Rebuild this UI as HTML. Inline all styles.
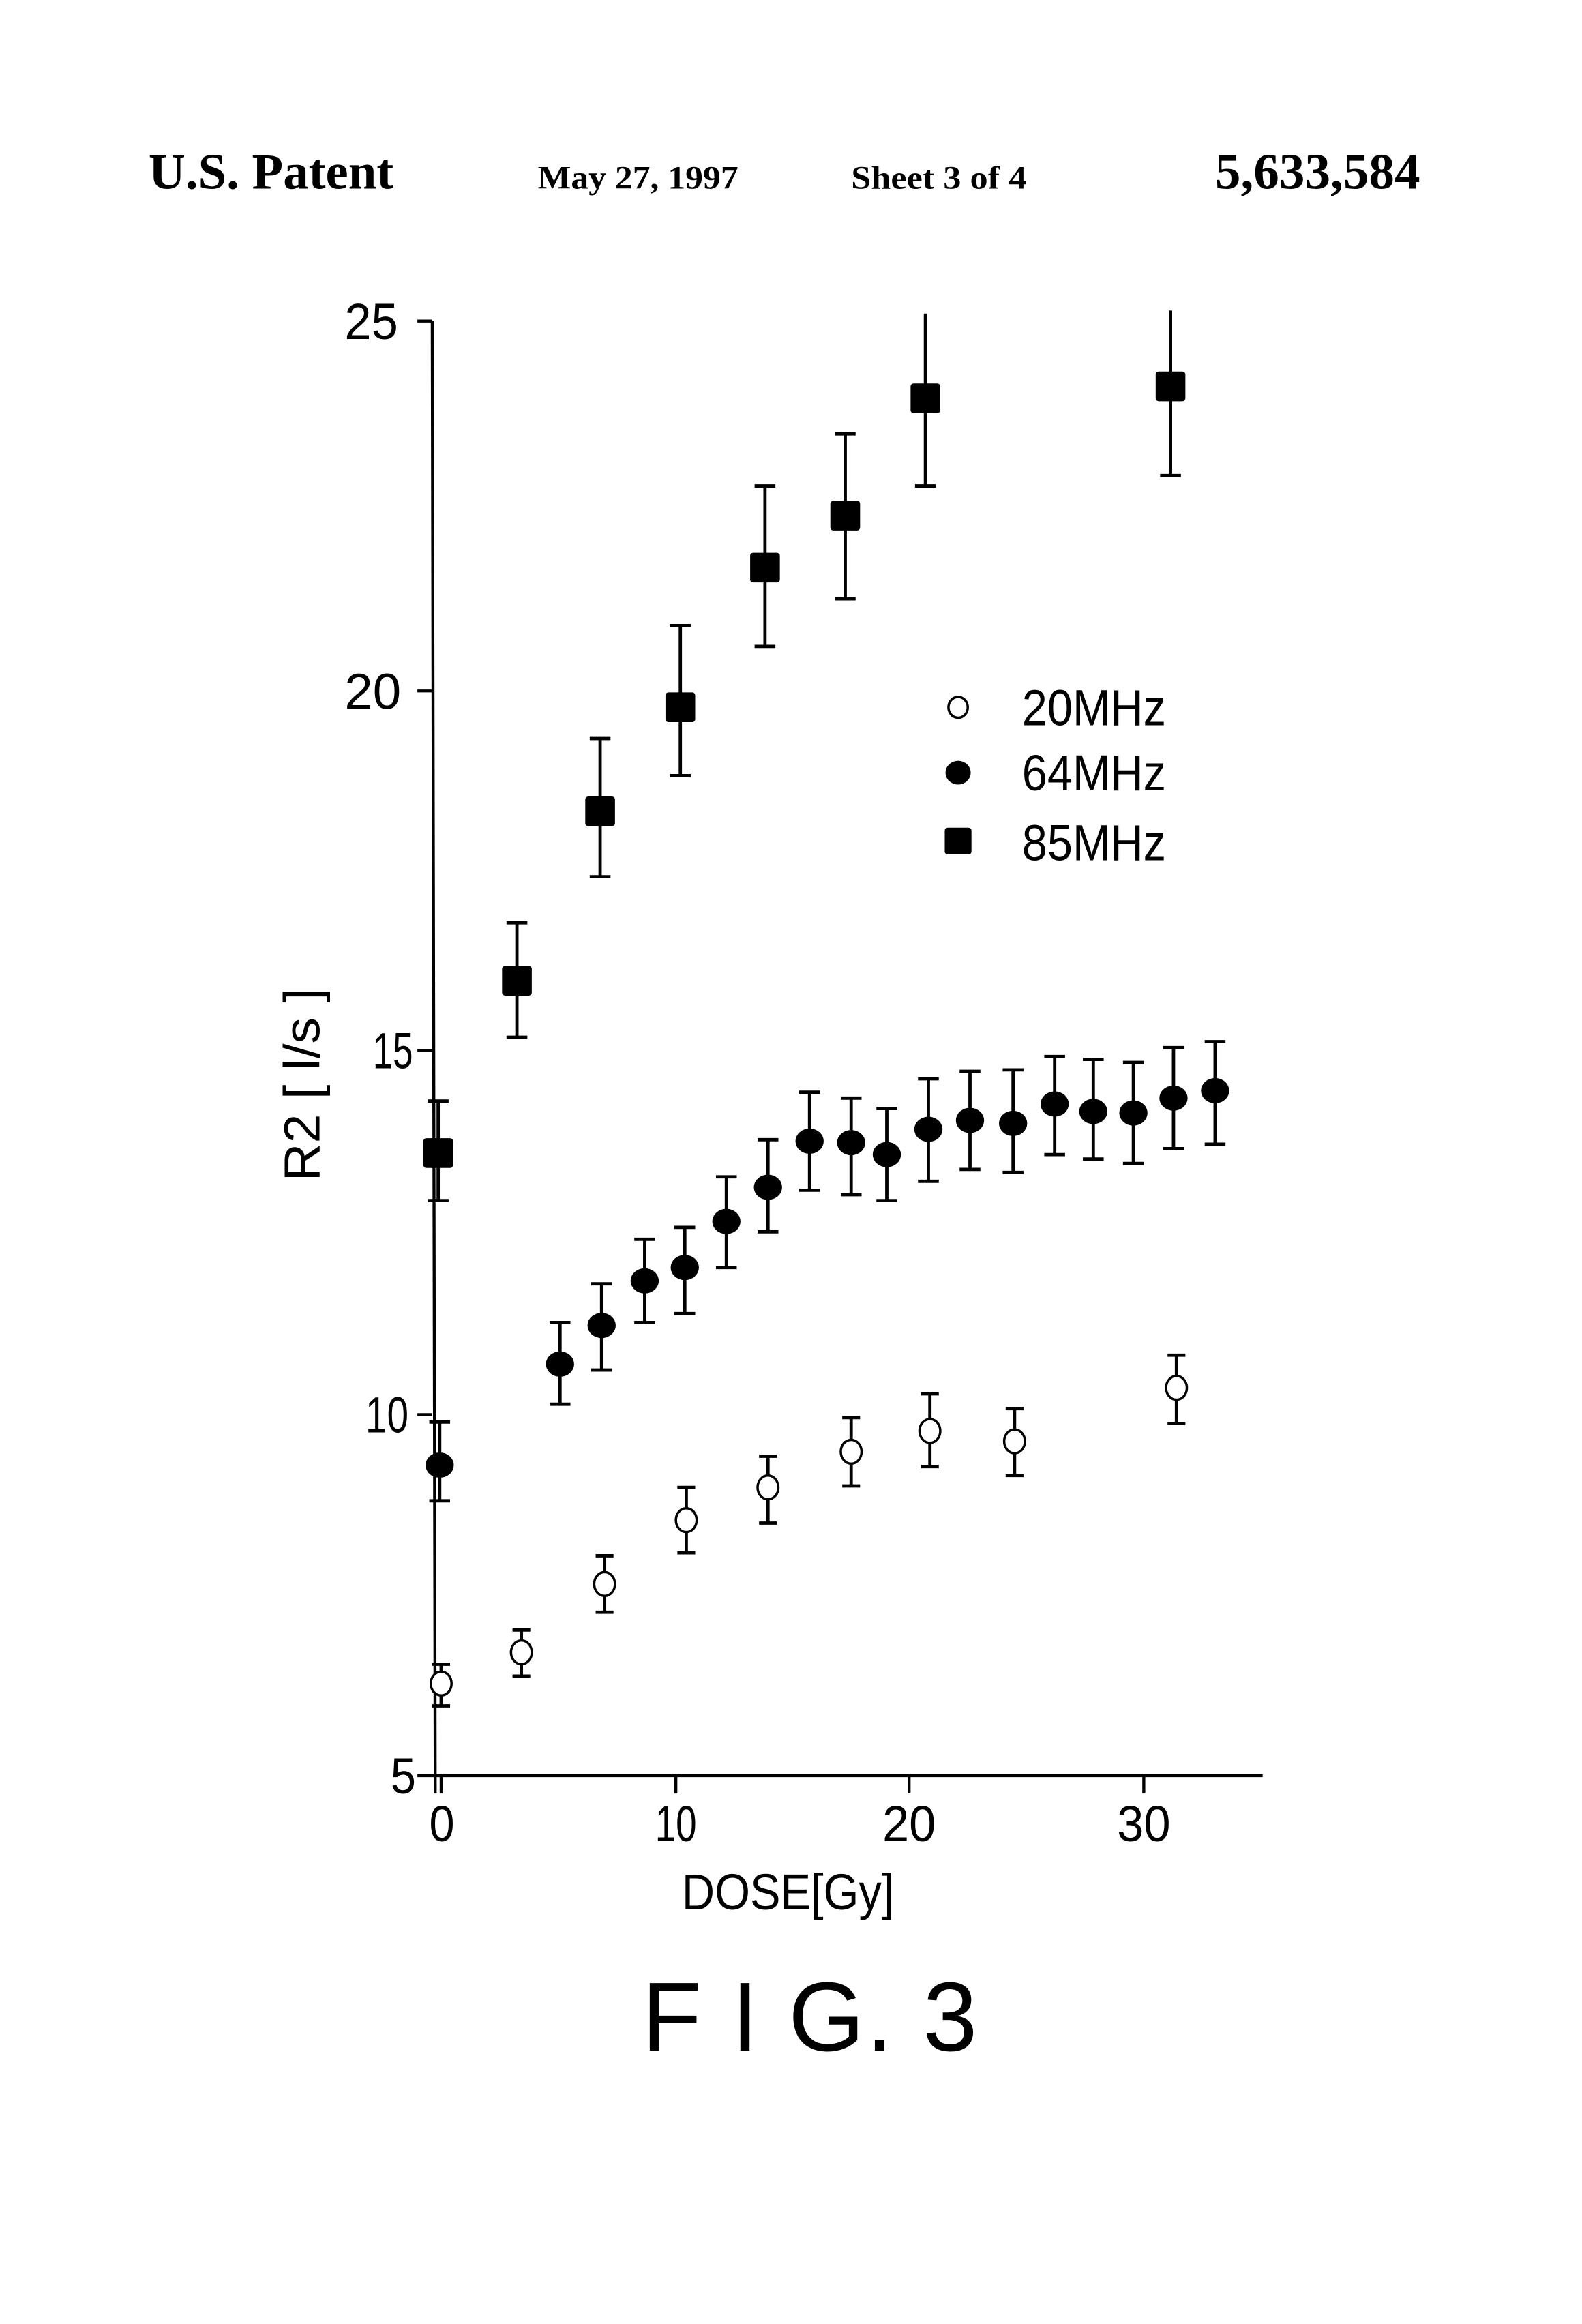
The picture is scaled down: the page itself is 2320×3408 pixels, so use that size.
<!DOCTYPE html>
<html><head><meta charset="utf-8"><style>html,body{margin:0;padding:0;background:#fff}svg{display:block}</style></head>
<body>
<svg width="2320" height="3408" viewBox="0 0 1065 1564" preserveAspectRatio="none" xmlns="http://www.w3.org/2000/svg">
<rect width="1065" height="1564" fill="#fff"/>
<g font-family="Liberation Serif, serif" fill="#000">
<text x="100" y="127" font-size="34" font-weight="bold" textLength="165" lengthAdjust="spacingAndGlyphs">U.S. Patent</text>
<text x="362" y="127" font-size="22" font-weight="bold" textLength="135" lengthAdjust="spacingAndGlyphs">May 27, 1997</text>
<text x="573" y="127" font-size="22" font-weight="bold" textLength="118" lengthAdjust="spacingAndGlyphs">Sheet 3 of 4</text>
<text x="818" y="127" font-size="34" font-weight="bold" textLength="138" lengthAdjust="spacingAndGlyphs">5,633,584</text>
</g>
<g stroke="#000" stroke-width="2" fill="none">
<line x1="291" y1="216" x2="293" y2="1207"/>
<line x1="281" y1="1195" x2="850" y2="1195"/>
<line x1="281" y1="216" x2="291" y2="216"/>
<line x1="281" y1="465" x2="291" y2="465"/>
<line x1="281" y1="707" x2="291" y2="707"/>
<line x1="281" y1="952" x2="291" y2="952"/>
<line x1="297" y1="1195" x2="297" y2="1207"/>
<line x1="455" y1="1195" x2="455" y2="1207"/>
<line x1="612" y1="1195" x2="612" y2="1207"/>
<line x1="770" y1="1195" x2="770" y2="1207"/>
</g>
<g font-family="Liberation Sans, sans-serif" font-size="34" fill="#000">
<text x="232" y="228" textLength="36" lengthAdjust="spacingAndGlyphs">25</text>
<text x="232" y="477" textLength="38" lengthAdjust="spacingAndGlyphs">20</text>
<text x="251" y="719" textLength="27" lengthAdjust="spacingAndGlyphs">15</text>
<text x="246" y="964" textLength="29" lengthAdjust="spacingAndGlyphs">10</text>
<text x="263" y="1207" textLength="17" lengthAdjust="spacingAndGlyphs">5</text>
<text x="289" y="1239" textLength="17" lengthAdjust="spacingAndGlyphs">0</text>
<text x="441" y="1239" textLength="28" lengthAdjust="spacingAndGlyphs">10</text>
<text x="594" y="1239" textLength="36" lengthAdjust="spacingAndGlyphs">20</text>
<text x="752" y="1239" textLength="36" lengthAdjust="spacingAndGlyphs">30</text>
<text x="459" y="1285" textLength="143" lengthAdjust="spacingAndGlyphs">DOSE[Gy]</text>
<text transform="translate(215,795) rotate(-90)" x="0" y="0" textLength="130" lengthAdjust="spacingAndGlyphs">R2 [ l/s ]</text>
<text x="688" y="488" textLength="97" lengthAdjust="spacingAndGlyphs">20MHz</text>
<text x="688" y="532" textLength="97" lengthAdjust="spacingAndGlyphs">64MHz</text>
<text x="688" y="579" textLength="97" lengthAdjust="spacingAndGlyphs">85MHz</text>
<text x="432" y="1380" font-size="66" textLength="226" lengthAdjust="spacing">F I G. 3</text>
</g>
<g stroke="#000" stroke-width="2.2" fill="none">
<path d="M295 741V808M288 741h14M288 808h14"/>
<path d="M348 621V698M341 621h14M341 698h14"/>
<path d="M404 497V590M397 497h14M397 590h14"/>
<path d="M458 421V522M451 421h14M451 522h14"/>
<path d="M515 327V435M508 327h14M508 435h14"/>
<path d="M569 292V403M562 292h14M562 403h14"/>
<path d="M623 211V327M616 327h14"/>
<path d="M788 209V320M781 320h14"/>
<path d="M296 957V1010M289 957h14M289 1010h14"/>
<path d="M377 890V945M370 890h14M370 945h14"/>
<path d="M405 864V922M398 864h14M398 922h14"/>
<path d="M434 834V890M427 834h14M427 890h14"/>
<path d="M461 826V884M454 826h14M454 884h14"/>
<path d="M489 792V853M482 792h14M482 853h14"/>
<path d="M517 767V829M510 767h14M510 829h14"/>
<path d="M545 735V801M538 735h14M538 801h14"/>
<path d="M573 739V804M566 739h14M566 804h14"/>
<path d="M597 746V808M590 746h14M590 808h14"/>
<path d="M625 726V795M618 726h14M618 795h14"/>
<path d="M653 721V787M646 721h14M646 787h14"/>
<path d="M682 720V789M675 720h14M675 789h14"/>
<path d="M710 711V777M703 711h14M703 777h14"/>
<path d="M736 713V780M729 713h14M729 780h14"/>
<path d="M763 715V783M756 715h14M756 783h14"/>
<path d="M790 705V773M783 705h14M783 773h14"/>
<path d="M818 701V770M811 701h14M811 770h14"/>
<path d="M297 1120V1148M291 1120h12M291 1148h12"/>
<path d="M351 1097V1128M345 1097h12M345 1128h12"/>
<path d="M407 1047V1085M401 1047h12M401 1085h12"/>
<path d="M462 1001V1045M456 1001h12M456 1045h12"/>
<path d="M517 980V1025M511 980h12M511 1025h12"/>
<path d="M573 954V1000M567 954h12M567 1000h12"/>
<path d="M626 938V987M620 938h12M620 987h12"/>
<path d="M683 948V993M677 948h12M677 993h12"/>
<path d="M792 912V958M786 912h12M786 958h12"/>
</g>
<g fill="#000">
<rect x="285" y="766" width="20" height="20" rx="2"/>
<rect x="338" y="650" width="20" height="20" rx="2"/>
<rect x="394" y="536" width="20" height="20" rx="2"/>
<rect x="448" y="466" width="20" height="20" rx="2"/>
<rect x="505" y="372" width="20" height="20" rx="2"/>
<rect x="559" y="337" width="20" height="20" rx="2"/>
<rect x="613" y="258" width="20" height="20" rx="2"/>
<rect x="778" y="250" width="20" height="20" rx="2"/>
<rect x="636" y="557" width="18" height="18" rx="2"/>
<ellipse cx="296" cy="986" rx="9.5" ry="8.5"/>
<ellipse cx="377" cy="918" rx="9.5" ry="8.5"/>
<ellipse cx="405" cy="892" rx="9.5" ry="8.5"/>
<ellipse cx="434" cy="862" rx="9.5" ry="8.5"/>
<ellipse cx="461" cy="853" rx="9.5" ry="8.5"/>
<ellipse cx="489" cy="822" rx="9.5" ry="8.5"/>
<ellipse cx="517" cy="799" rx="9.5" ry="8.5"/>
<ellipse cx="545" cy="768" rx="9.5" ry="8.5"/>
<ellipse cx="573" cy="769" rx="9.5" ry="8.5"/>
<ellipse cx="597" cy="777" rx="9.5" ry="8.5"/>
<ellipse cx="625" cy="760" rx="9.5" ry="8.5"/>
<ellipse cx="653" cy="754" rx="9.5" ry="8.5"/>
<ellipse cx="682" cy="756" rx="9.5" ry="8.5"/>
<ellipse cx="710" cy="743" rx="9.5" ry="8.5"/>
<ellipse cx="736" cy="748" rx="9.5" ry="8.5"/>
<ellipse cx="763" cy="749" rx="9.5" ry="8.5"/>
<ellipse cx="790" cy="739" rx="9.5" ry="8.5"/>
<ellipse cx="818" cy="734" rx="9.5" ry="8.5"/>
<ellipse cx="645" cy="520" rx="8.5" ry="8"/>
</g>
<g fill="#fff" stroke="#000" stroke-width="1.6">
<ellipse cx="297" cy="1133" rx="7" ry="8"/>
<ellipse cx="351" cy="1112" rx="7" ry="8"/>
<ellipse cx="407" cy="1066" rx="7" ry="8"/>
<ellipse cx="462" cy="1023" rx="7" ry="8"/>
<ellipse cx="517" cy="1001" rx="7" ry="8"/>
<ellipse cx="573" cy="977" rx="7" ry="8"/>
<ellipse cx="626" cy="963" rx="7" ry="8"/>
<ellipse cx="683" cy="970" rx="7" ry="8"/>
<ellipse cx="792" cy="934" rx="7" ry="8"/>
<ellipse cx="645" cy="476" rx="6.5" ry="7"/>
</g>
</svg>
</body></html>
